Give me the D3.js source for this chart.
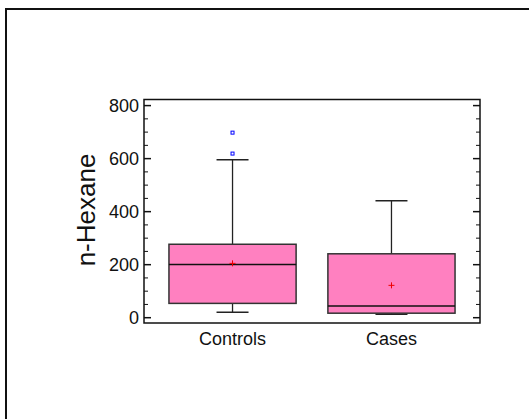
<!DOCTYPE html>
<html>
<head>
<meta charset="utf-8">
<script src="https://cdn.jsdelivr.net/npm/d3@7"></script>
<style>
  body { margin: 0; background: #fff; }
  svg { display: block; font-family: "Liberation Sans", Arial, sans-serif; }
</style>
</head>
<body>
<svg id="chart" width="529" height="419"></svg>
<script>
// box plot summary
var groups = ["Controls", "Cases"];
var lowWhisker = [21, 13];
var q1 = [54, 17];
var median = [201, 44];
var q3 = [277, 241];
var highWhisker = [596, 441];
var means = [205, 122];
var outliers = [[698, 619], []];
var yTicks = [0, 200, 400, 600, 800];

var svg = d3.select("#chart");

/* outer frame, runs off the right and bottom edge */
svg.append("rect")
    .attr("x", 6).attr("y", 9)
    .attr("width", 600).attr("height", 500)
    .attr("fill", "none")
    .attr("stroke", "#111")
    .attr("stroke-width", 2);

var pLeft = 144, pRight = 480, pTop = 99.5, pBottom = 323;

var x = d3.scalePoint().domain(groups).range([pLeft, pRight]).padding(0.557);
var y = d3.scaleLinear().domain([-20, 823]).range([pBottom, pTop]);
var boxW = x.step() * 0.8, capW = 32;

var data = groups.map(function(g, i) {
    return {name: g, lo: lowWhisker[i], q1: q1[i], med: median[i], q3: q3[i],
            hi: highWhisker[i], mean: means[i], out: outliers[i]};
});

var g = svg.append("g");

// whiskers
g.selectAll(".whisk").data(data).enter().append("line")
    .attr("x1", function(d) { return x(d.name); })
    .attr("x2", function(d) { return x(d.name); })
    .attr("y1", function(d) { return y(d.hi); })
    .attr("y2", function(d) { return y(d.lo); })
    .attr("stroke", "#222").attr("stroke-width", 1.3);

["hi", "lo"].forEach(function(k) {
    g.selectAll(".cap-" + k).data(data).enter().append("line")
        .attr("x1", function(d) { return x(d.name) - capW / 2; })
        .attr("x2", function(d) { return x(d.name) + capW / 2; })
        .attr("y1", function(d) { return y(d[k]); })
        .attr("y2", function(d) { return y(d[k]); })
        .attr("stroke", "#222").attr("stroke-width", 1.5);
});

// boxes
g.selectAll(".box").data(data).enter().append("rect")
    .attr("x", function(d) { return x(d.name) - boxW / 2; })
    .attr("width", boxW)
    .attr("y", function(d) { return y(d.q3); })
    .attr("height", function(d) { return y(d.q1) - y(d.q3); })
    .attr("fill", "#ff80c0")
    .attr("stroke", "#333").attr("stroke-width", 1.5);

g.selectAll(".med").data(data).enter().append("line")
    .attr("x1", function(d) { return x(d.name) - boxW / 2; })
    .attr("x2", function(d) { return x(d.name) + boxW / 2; })
    .attr("y1", function(d) { return y(d.med); })
    .attr("y2", function(d) { return y(d.med); })
    .attr("stroke", "#111").attr("stroke-width", 1.5);

// mean markers
g.selectAll(".mean").data(data).enter().append("path")
    .attr("d", function(d) {
        var cx = x(d.name), cy = y(d.mean);
        return "M" + (cx - 3) + "," + cy + "H" + (cx + 3) + "M" + cx + "," + (cy - 3) + "V" + (cy + 3);
    })
    .attr("stroke", "#e00").attr("stroke-width", 1);

// outliers
data.forEach(function(d) {
    g.selectAll(null).data(d.out).enter().append("rect")
        .attr("x", x(d.name) - 1.5)
        .attr("y", function(v) { return y(v) - 1.5; })
        .attr("width", 3).attr("height", 3)
        .attr("fill", "none")
        .attr("stroke", "#00f").attr("stroke-width", 1);
});

// plot frame
svg.append("rect")
    .attr("x", pLeft).attr("y", pTop)
    .attr("width", pRight - pLeft).attr("height", pBottom - pTop)
    .attr("fill", "none").attr("stroke", "#111").attr("stroke-width", 1.5);

// ticks on both sides, pointing inward
var minor = d3.range(0, 801, 50);
[[pLeft, 1], [pRight, -1]].forEach(function(s) {
    svg.selectAll(null).data(minor).enter().append("line")
        .attr("x1", s[0])
        .attr("x2", function(v) { return s[0] + s[1] * (v % 200 === 0 ? 7 : 4); })
        .attr("y1", function(v) { return y(v); })
        .attr("y2", function(v) { return y(v); })
        .attr("stroke", "#111")
        .attr("stroke-width", function(v) { return v % 200 === 0 ? 1.5 : 1; });
});

svg.selectAll(".ytl").data(yTicks).enter().append("text")
    .attr("x", pLeft - 5)
    .attr("y", function(v) { return y(v); })
    .attr("dy", "0.36em")
    .attr("text-anchor", "end")
    .attr("font-size", 18)
    .attr("fill", "#111")
    .text(function(v) { return v; });

svg.selectAll(".xtl").data(groups).enter().append("text")
    .attr("x", function(d) { return x(d); })
    .attr("y", 345)
    .attr("text-anchor", "middle")
    .attr("font-size", 18)
    .attr("fill", "#111")
    .text(function(d) { return d; });

svg.append("text")
    .attr("transform", "translate(95,210) rotate(-90)")
    .attr("text-anchor", "middle")
    .attr("font-size", 26)
    .attr("fill", "#111")
    .text("n-Hexane");
</script>
</body>
</html>
